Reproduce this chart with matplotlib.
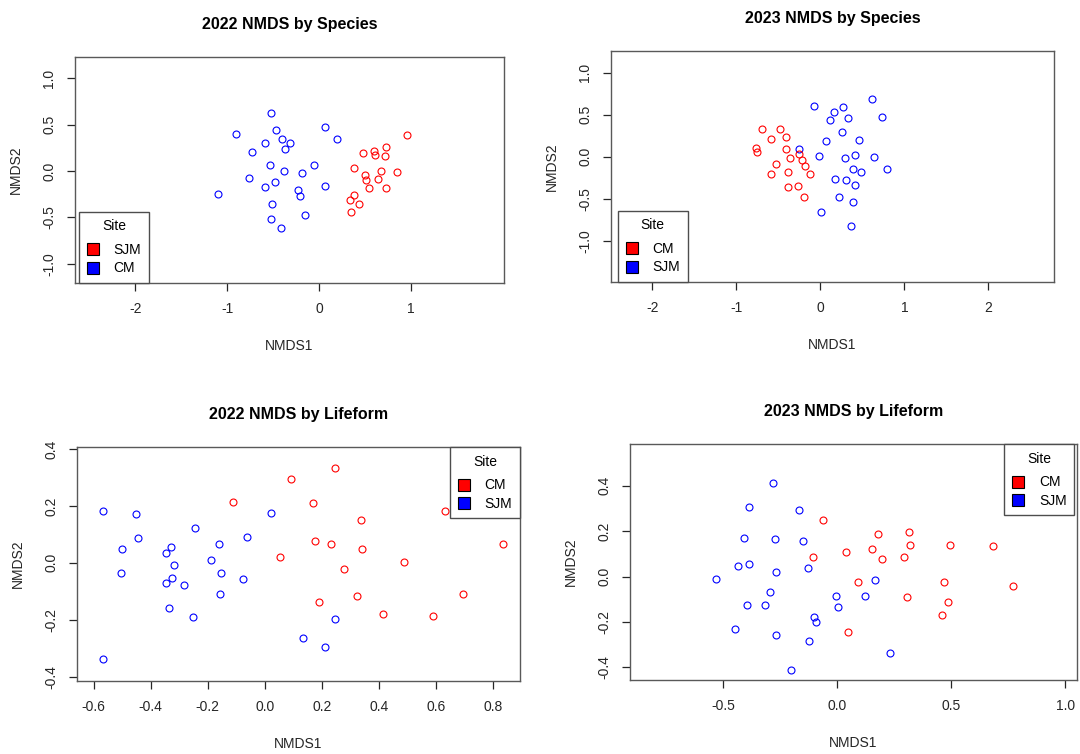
import matplotlib
matplotlib.use("Agg")
import matplotlib.pyplot as plt
from matplotlib.lines import Line2D

plt.rcParams['font.family'] = ['Liberation Sans', 'DejaVu Sans']

# ---- 2022 NMDS by Species ----
sp22_blue_x = [-0.52, -0.91, -0.47, -0.40, -0.32, -0.59, -0.37, -0.73, 0.06, 0.19, -0.54, -0.38, -0.19,
               -0.06, -0.76, -0.59, -0.48, -0.23, -0.21, 0.06, -1.10, -0.51, -0.52, -0.42, -0.16]
sp22_blue_y = [0.63, 0.40, 0.44, 0.35, 0.30, 0.30, 0.24, 0.21, 0.48, 0.35, 0.06, 0.00, -0.02,
               0.07, -0.07, -0.17, -0.12, -0.21, -0.27, -0.16, -0.25, -0.36, -0.52, -0.61, -0.48]
sp22_red_x = [0.95, 0.48, 0.60, 0.61, 0.72, 0.71, 0.38, 0.50, 0.51, 0.67, 0.85, 0.64, 0.54, 0.73,
              0.38, 0.33, 0.43, 0.34]
sp22_red_y = [0.39, 0.19, 0.22, 0.17, 0.26, 0.16, 0.03, -0.04, -0.10, 0.00, -0.01, -0.09, -0.18, -0.18,
              -0.26, -0.31, -0.36, -0.44]

# ---- 2023 NMDS by Species ----
sp23_blue_x = [-0.08, 0.16, 0.27, 0.61, 0.11, 0.33, 0.73, 0.26, 0.07, 0.46, -0.25, -0.01, 0.29,
               0.41, 0.64, 0.39, 0.49, 0.79, 0.18, 0.31, 0.41, 0.22, 0.39, 0.01, 0.37]
sp23_blue_y = [0.60, 0.53, 0.59, 0.69, 0.44, 0.46, 0.47, 0.29, 0.19, 0.20, 0.09, 0.01, -0.01,
               0.02, 0.00, -0.15, -0.18, -0.15, -0.27, -0.28, -0.34, -0.48, -0.54, -0.66, -0.83]
sp23_red_x = [-0.69, -0.48, -0.59, -0.41, -0.76, -0.75, -0.41, -0.25, -0.36, -0.22, -0.18, -0.53,
              -0.38, -0.59, -0.12, -0.39, -0.26, -0.19]
sp23_red_y = [0.33, 0.33, 0.21, 0.23, 0.10, 0.05, 0.09, 0.03, -0.02, -0.04, -0.11, -0.09,
              -0.18, -0.21, -0.21, -0.36, -0.35, -0.48]

# ---- 2022 NMDS by Lifeform ----
lf22_blue_x = [-0.566, -0.453, -0.446, -0.501, -0.504, -0.566, -0.329, -0.347, -0.317, -0.324, -0.347,
               -0.282, -0.337, -0.253, -0.246, -0.162, -0.189, -0.154, -0.156, -0.063, -0.077, 0.022,
               0.135, 0.210, 0.245]
lf22_blue_y = [0.183, 0.171, 0.088, 0.048, -0.035, -0.338, 0.055, 0.035, -0.007, -0.054, -0.071,
               -0.079, -0.160, -0.190, 0.123, 0.068, 0.009, -0.035, -0.110, 0.090, -0.058, 0.174,
               -0.264, -0.297, -0.196]
lf22_red_x = [-0.112, 0.091, 0.245, 0.168, 0.338, 0.051, 0.174, 0.232, 0.341, 0.278, 0.487, 0.322,
              0.190, 0.414, 0.589, 0.694, 0.630, 0.833]
lf22_red_y = [0.213, 0.293, 0.332, 0.209, 0.152, 0.020, 0.078, 0.068, 0.048, -0.022, 0.004, -0.116,
              -0.136, -0.180, -0.187, -0.110, 0.183, 0.068]

# ---- 2023 NMDS by Lifeform ----
lf23_blue_x = [-0.281, -0.387, -0.170, -0.408, -0.272, -0.151, -0.436, -0.387, -0.268, -0.130, -0.534,
               -0.297, -0.395, -0.318, -0.007, 0.001, -0.101, -0.092, -0.448, -0.268, -0.126, -0.204,
               0.120, 0.164, 0.233]
lf23_blue_y = [0.412, 0.306, 0.293, 0.171, 0.164, 0.155, 0.048, 0.057, 0.019, 0.037, -0.009,
               -0.070, -0.123, -0.123, -0.086, -0.135, -0.176, -0.198, -0.230, -0.258, -0.283, -0.413,
               -0.086, -0.016, -0.336]
lf23_red_x = [-0.064, -0.108, 0.038, 0.152, 0.177, 0.195, 0.316, 0.319, 0.294, 0.493, 0.682, 0.089,
              0.307, 0.467, 0.486, 0.457, 0.045, 0.769]
lf23_red_y = [0.249, 0.085, 0.110, 0.119, 0.186, 0.078, 0.195, 0.138, 0.085, 0.138, 0.133, -0.025,
              -0.091, -0.025, -0.111, -0.168, -0.246, -0.041]

titles = ["2022 NMDS by Species", "2023 NMDS by Species",
          "2022 NMDS by Lifeform", "2023 NMDS by Lifeform"]
legend_labels = [["SJM", "CM"], ["CM", "SJM"], ["CM", "SJM"], ["CM", "SJM"]]

xticks = [[-2, -1, 0, 1], [-2, -1, 0, 1, 2],
          [-0.6, -0.4, -0.2, 0.0, 0.2, 0.4, 0.6, 0.8], [-0.5, 0.0, 0.5, 1.0]]
xticklabels = [["-2", "-1", "0", "1"], ["-2", "-1", "0", "1", "2"],
               ["-0.6", "-0.4", "-0.2", "0.0", "0.2", "0.4", "0.6", "0.8"],
               ["-0.5", "0.0", "0.5", "1.0"]]
yticks = [[-1, -0.5, 0, 0.5, 1], [-1, -0.5, 0, 0.5, 1],
          [-0.4, -0.2, 0.0, 0.2, 0.4], [-0.4, -0.2, 0.0, 0.2, 0.4]]
yticklabels = [["-1.0", "-0.5", "0.0", "0.5", "1.0"], ["-1.0", "-0.5", "0.0", "0.5", "1.0"],
               ["-0.4", "-0.2", "0.0", "0.2", "0.4"], ["-0.4", "-0.2", "0.0", "0.2", "0.4"]]

W, H = 1080, 754
fig = plt.figure(figsize=(W / 100, H / 100), dpi=100)

# axes boxes in pixels: left, right, top, bottom
boxes = [(75, 504, 57, 283), (611, 1054, 51, 282), (77, 520, 447, 681), (630, 1077, 444, 680)]
xlims = [(-2.655, 2.008), (-2.492, 2.782), (-0.658, 0.893), (-0.909, 1.051)]
ylims = [(-1.209, 1.231), (-1.492, 1.258), (-0.415, 0.407), (-0.455, 0.583)]
leg_loc = ["lower left", "lower left", "upper right", "upper right"]
leg_anchor = [(0.009, 0.0), (0.015, 0.0), (1.0, 1.0), (0.994, 1.0)]

data = [(sp22_red_x, sp22_red_y, sp22_blue_x, sp22_blue_y),
        (sp23_red_x, sp23_red_y, sp23_blue_x, sp23_blue_y),
        (lf22_red_x, lf22_red_y, lf22_blue_x, lf22_blue_y),
        (lf23_red_x, lf23_red_y, lf23_blue_x, lf23_blue_y)]

for i in range(4):
    l, r, t, b = boxes[i]
    ax = fig.add_axes([l / W, 1 - b / H, (r - l) / W, (b - t) / H])
    rx, ry, bx, by = data[i]
    ax.plot(bx, by, 'o', mfc='none', mec='#0000FF', ms=5, mew=0.8, zorder=3)
    ax.plot(rx, ry, 'o', mfc='none', mec='#FF0000', ms=5, mew=0.8, zorder=3)
    ax.set_xlim(xlims[i])
    ax.set_ylim(ylims[i])
    ax.set_xticks(xticks[i])
    ax.set_xticklabels(xticklabels[i])
    ax.set_yticks(yticks[i])
    ax.set_yticklabels(yticklabels[i], rotation=90, va='center')
    ax.tick_params(length=5.5, width=0.9, pad=8, labelsize=10, colors='0.15')
    for s in ax.spines.values():
        s.set_color('0.35')
        s.set_linewidth(1.0)
    ax.set_title(titles[i], fontsize=11.5, fontweight='bold', pad=20)
    ax.set_xlabel("NMDS1", fontsize=10, labelpad=17, color='0.15')
    ax.set_ylabel("NMDS2", fontsize=10, labelpad=14, color='0.15')

    handles = [Line2D([], [], ls='none', marker='s', ms=8, mfc='#FF0000', mec='black', mew=0.8),
               Line2D([], [], ls='none', marker='s', ms=8, mfc='#0000FF', mec='black', mew=0.8)]
    leg = ax.legend(handles, legend_labels[i], title="Site", loc=leg_loc[i],
                    bbox_to_anchor=leg_anchor[i], borderaxespad=0, fontsize=10,
                    title_fontsize=10, fancybox=False, framealpha=1, edgecolor='0.3',
                    handlelength=0.9, handletextpad=1.05, labelspacing=0.3,
                    borderpad=0.55)
    leg._legend_box.sep = 7
    leg.get_frame().set_linewidth(1.0)
    leg.set_zorder(5)

fig.savefig("out.png", dpi=100)
